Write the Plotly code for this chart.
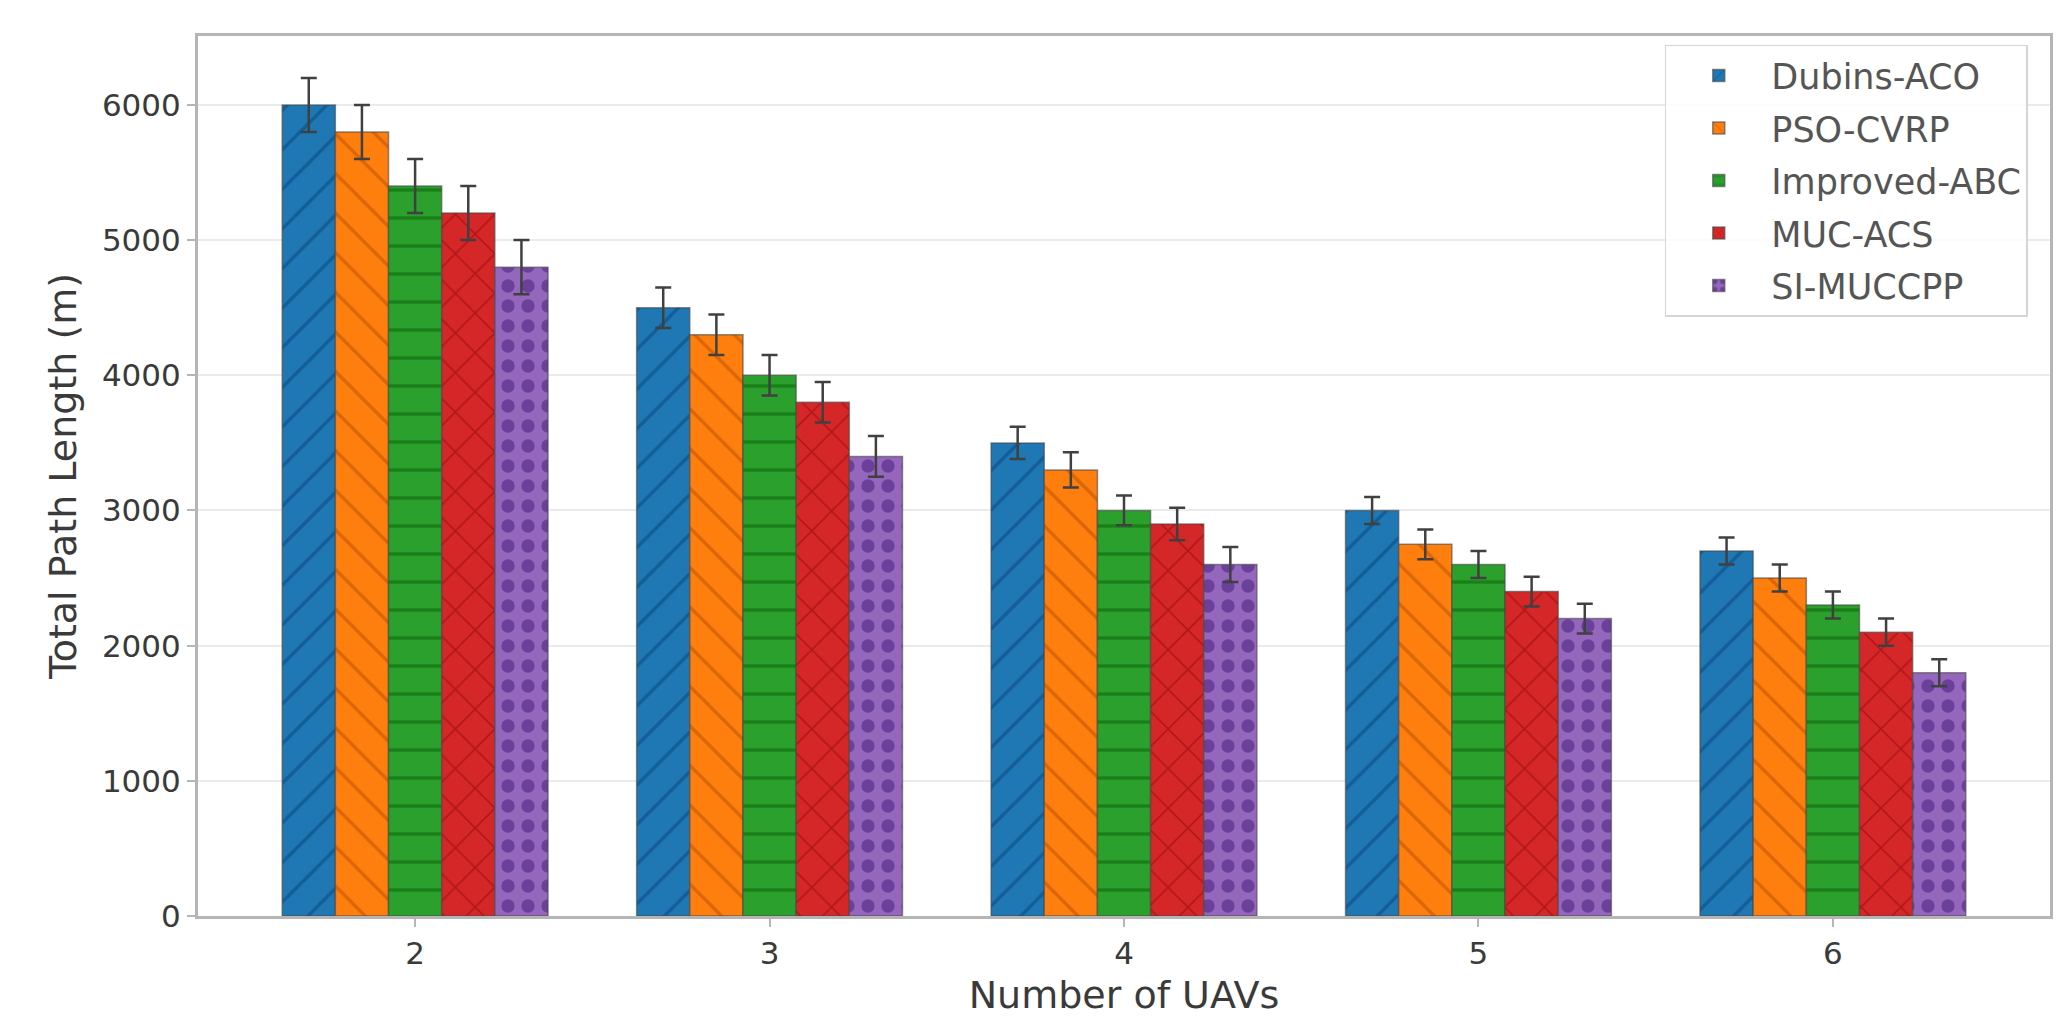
import plotly.graph_objects as go

uav_counts = ["2", "3", "4", "5", "6"]
methods = ["Dubins-ACO", "PSO-CVRP", "Improved-ABC", "MUC-ACS", "SI-MUCCPP"]

# mean total path length (m) for each method, one value per UAV count
dubins_aco = [6000, 4500, 3500, 3000, 2700]
pso_cvrp = [5800, 4300, 3300, 2750, 2500]
improved_abc = [5400, 4000, 3000, 2600, 2300]
muc_acs = [5200, 3800, 2900, 2400, 2100]
si_muccpp = [4800, 3400, 2600, 2200, 1800]

# error bars (std)
dubins_aco_err = [200, 150, 120, 100, 100]
pso_cvrp_err = [200, 150, 130, 110, 100]
improved_abc_err = [200, 150, 110, 100, 100]
muc_acs_err = [200, 150, 120, 110, 100]
si_muccpp_err = [200, 150, 130, 110, 100]

values = [dubins_aco, pso_cvrp, improved_abc, muc_acs, si_muccpp]
errors = [dubins_aco_err, pso_cvrp_err, improved_abc_err, muc_acs_err, si_muccpp_err]

colors = ["#1f77b4", "#ff7f0e", "#2ca02c", "#d62728", "#9467bd"]
hatch_colors = ["#08457a", "#b84d00", "#066006", "#8f0808", "#3f1a78"]
hatches = ["/", "\\", "-", "x", "."]
hatch_sizes = [28, 28, 28, 28, 20]

fig = go.Figure()
for i in range(len(methods)):
    fig.add_trace(go.Bar(
        x=uav_counts,
        y=values[i],
        name=methods[i],
        legendgroup=methods[i],
        marker=dict(
            color=colors[i],
            line=dict(color="rgba(70,70,70,0.6)", width=1.5),
            pattern=dict(shape=hatches[i], fgcolor=hatch_colors[i],
                         size=hatch_sizes[i],
                         solidity=0.35 if hatches[i] == "." else 0.12),
        ),
        error_y=dict(type="data", array=errors[i], color="#404040",
                     thickness=2.5, width=8),
    ))

fig.update_layout(
    width=2065,
    height=1023,
    barmode="group",
    bargap=0.25,
    bargroupgap=0,
    plot_bgcolor="white",
    paper_bgcolor="white",
    font=dict(family="DejaVu Sans", size=31, color="#3a3a3a"),
    margin=dict(l=190, r=23, t=28, b=115),
    legend=dict(
        x=0.988, y=0.99, xanchor="right", yanchor="top",
        bgcolor="rgba(255,255,255,0.85)",
        bordercolor="#d5d5d5", borderwidth=1.5,
        font=dict(size=35, color="#555555"),
        traceorder="grouped",
        itemwidth=95,
        tracegroupgap=4,
    ),
)

fig.update_xaxes(
    type="category",
    range=[-0.6125, 4.6125],
    title=dict(text="Number of UAVs", font=dict(size=38, color="#3a3a3a"), standoff=12),
    showline=True, linecolor="#b5b5b5", linewidth=3, mirror=True,
    ticks="outside", ticklen=8, tickcolor="#b5b5b5", tickwidth=2,
    showgrid=False,
)
fig.update_yaxes(
    range=[0, 6510],
    tickvals=[0, 1000, 2000, 3000, 4000, 5000, 6000],
    title=dict(text="Total Path Length (m)", font=dict(size=38, color="#3a3a3a"), standoff=14),
    showline=True, linecolor="#b5b5b5", linewidth=3, mirror=True,
    ticks="outside", ticklen=8, tickcolor="#b5b5b5", tickwidth=2,
    showgrid=True, gridcolor="rgba(0,0,0,0.08)", gridwidth=2,
    zeroline=False,
)

fig.write_html("out.html")
